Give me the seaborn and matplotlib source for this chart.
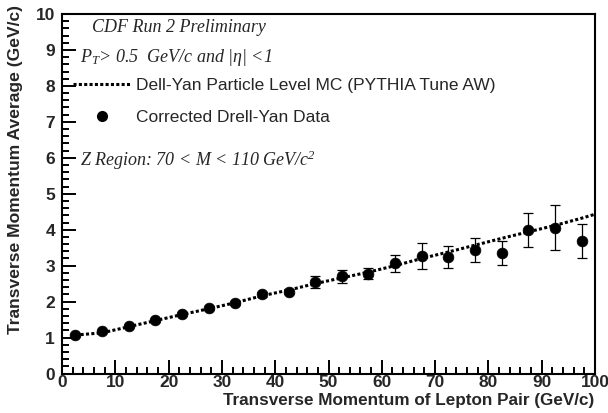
import numpy as np
import pandas as pd
import matplotlib
matplotlib.use("Agg")
import matplotlib.pyplot as plt
from matplotlib.ticker import MultipleLocator, FixedLocator
from matplotlib.lines import Line2D
import seaborn as sns

# ---- data ----
pt_bins = [2.5, 7.5, 12.5, 17.5, 22.5, 27.5, 32.5, 37.5, 42.5, 47.5,
           52.5, 57.5, 62.5, 67.5, 72.5, 77.5, 82.5, 87.5, 92.5, 97.5]
data_avg = [1.08, 1.17, 1.32, 1.48, 1.65, 1.82, 1.96, 2.20, 2.27, 2.55,
            2.70, 2.78, 3.06, 3.28, 3.24, 3.43, 3.35, 3.99, 4.06, 3.68]
data_err = [0.03, 0.03, 0.03, 0.04, 0.04, 0.05, 0.05, 0.06, 0.07, 0.16,
            0.17, 0.145, 0.24, 0.36, 0.31, 0.33, 0.345, 0.485, 0.635, 0.47]
mc_x = [2.5, 7.5, 12.5, 17.5, 22.5, 27.5, 32.5, 37.5, 42.5, 47.5,
        52.5, 57.5, 62.5, 67.5, 72.5, 77.5, 82.5, 87.5, 92.5, 97.5, 100.0]
mc_y = [1.07, 1.13, 1.30, 1.47, 1.64, 1.80, 1.97, 2.16, 2.32, 2.50,
        2.66, 2.82, 3.00, 3.20, 3.38, 3.57, 3.76, 3.94, 4.12, 4.32, 4.43]

x_ticks = [0, 10, 20, 30, 40, 50, 60, 70, 80, 90, 100]
y_ticks = [0, 1, 2, 3, 4, 5, 6, 7, 8, 9, 10]

x_label = "Transverse Momentum of Lepton Pair (GeV/c)"
y_label = "Transverse Momentum Average (GeV/c)"
mc_label = "Dell-Yan Particle Level MC (PYTHIA Tune AW)"
data_label = "Corrected Drell-Yan Data"

sns.set_style("ticks")
plt.rcParams["font.family"] = ["Liberation Sans", "DejaVu Sans"]
plt.rcParams["mathtext.fontset"] = "custom"
plt.rcParams["mathtext.rm"] = "Liberation Serif:italic"
plt.rcParams["mathtext.it"] = "Liberation Serif:italic"

W, H = 608, 413
fig = plt.figure(figsize=(W / 100, H / 100), dpi=100)
ax = fig.add_axes([62 / W, 1 - 373.5 / H, (595 - 62) / W, (373.5 - 14) / H])

mc_df = pd.DataFrame({"x": mc_x, "y": mc_y})
sns.lineplot(data=mc_df, x="x", y="y", ax=ax, color="black", lw=2.2,
             linestyle=(0, (1.0, 0.75)), legend=False)
ax.errorbar(pt_bins, data_avg, yerr=data_err, fmt="none", ecolor="black",
            elinewidth=0.9, capsize=3.5, capthick=0.9, zorder=3)
df = pd.DataFrame({"x": pt_bins, "y": data_avg})
sns.scatterplot(data=df, x="x", y="y", ax=ax, color="black", s=60,
                edgecolor="black", linewidth=0.5, zorder=4, legend=False)

ax.set_xlim(0, 100)
ax.set_ylim(0, 10)
ax.set_xlabel("")
ax.set_ylabel("")

fig.text(594 / W, 1 - 400 / H, x_label, ha="right", va="center",
         fontsize=12.3, fontweight="bold")
fig.text(16 / W, 1 - 5 / H, y_label, ha="center", va="top", rotation=90,
         fontsize=12.6, fontweight="bold")

serif = dict(family="Liberation Serif", style="italic", fontsize=13)
fig.text(92 / W, 1 - 27 / H, "CDF Run 2 Preliminary", ha="left", va="center", **serif)
fig.text(80 / W, 1 - 57 / H, r"$P_T$> 0.5  GeV/c and |η| <1", ha="left", va="center", **serif)
fig.text(80 / W, 1 - 160 / H, r"Z Region: 70 < M < 110 GeV/c$^2$",
         ha="left", va="center", **serif)

handles = [Line2D([], [], color="black", lw=2.2, linestyle=(0, (1.0, 0.75))),
           Line2D([], [], color="black", marker="o", markersize=7, linestyle="none")]
leg = ax.legend(handles, [mc_label, data_label], loc="upper left",
                bbox_to_anchor=(73 / W, 1 - 78 / H), bbox_transform=fig.transFigure,
                frameon=False, fontsize=12.5, handlelength=3.3, handletextpad=0.35,
                labelspacing=0.95, borderpad=0, borderaxespad=0)

# ticks (ROOT-like, inward)
ax.xaxis.set_major_locator(FixedLocator(x_ticks))
ax.yaxis.set_major_locator(FixedLocator(y_ticks))
ax.xaxis.set_minor_locator(MultipleLocator(2))
ax.yaxis.set_minor_locator(MultipleLocator(0.2))
ax.tick_params(which="both", direction="in", color="black")
ax.tick_params(which="major", length=10, width=1.4, labelsize=12.5)
ax.tick_params(which="minor", length=5, width=1.4)
ax.tick_params(axis="x", which="major", pad=1)
ax.tick_params(axis="y", which="major", pad=5)
for lab in ax.xaxis.get_majorticklabels() + ax.yaxis.get_majorticklabels():
    lab.set_fontweight("bold")
for s in ax.spines.values():
    s.set_linewidth(1.5)
    s.set_color("black")

fig.savefig("out.png", dpi=100)
